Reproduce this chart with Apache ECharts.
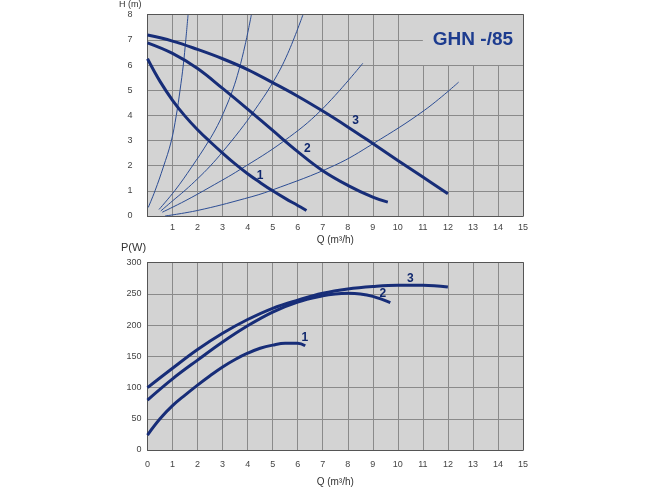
<!DOCTYPE html>
<html>
<head>
<meta charset="utf-8">
<script src="https://cdn.jsdelivr.net/npm/echarts@6/dist/echarts.min.js"></script>
<style>html,body{margin:0;padding:0;background:#fff}#c{width:650px;height:488px}</style>
</head>
<body>
<div id="c"></div>
<script>
// ---- Head curves H(Q) ----
const Q1 = [0,0.5,1,1.5,2,2.5,3,3.5,4,4.5,5,5.5,6,6.35];
const H1 = [6.25,5.35,4.6,3.97,3.43,2.95,2.5,2.07,1.68,1.33,1.0,0.7,0.42,0.22];
const Q2 = [0,1,2,3,4,5,6,7,8,9,9.6];
const H2 = [6.88,6.46,5.86,5.07,4.25,3.4,2.56,1.8,1.22,0.75,0.55];
const Q3 = [0,1,2,3,4,5,6,7,8,9,10,11,12];
const H3 = [7.19,6.95,6.62,6.25,5.82,5.3,4.76,4.17,3.54,2.88,2.21,1.55,0.88];
// ---- System curves ----
const SA_Q = [0.03,0.3,0.63,0.94,1.15,1.3,1.43,1.53,1.62];
const SA_H = [0.34,1.0,1.94,2.94,4,5,6,7,8];
const SB_Q = [0.46,1.1,1.76,2.42,2.8,3.1,3.4,3.65,3.9,4.15];
const SB_H = [0.26,1.02,1.94,2.94,3.6,4.25,5.0,5.8,6.8,8];
const SC_Q = [0.53,1,1.5,2,2.5,3,3.69,4.22,5.02,5.6,6.21];
const SC_H = [0.2,0.6,1.02,1.48,1.98,2.55,3.4,4.12,5.33,6.45,8];
const SD_Q = [0.59,1.5,2.5,3.69,5.45,6.93,8.6];
const SD_H = [0.15,0.6,1.15,1.84,2.98,4.2,6.07];
const SE_Q = [0.7,2,3.88,4.95,7.47,9.02,11.06,12.43];
const SE_H = [0,0.22,0.69,1.02,2.01,2.88,4.2,5.32];
// ---- Power curves P(Q) ----
const PQ1 = [0,0.5,1,1.5,2,2.5,3,3.5,4,4.5,5,5.5,6,6.3];
const P1  = [24,50,71,88,104,119,133,145,155,163,168,171,171,167];
const PQ2 = [0,1,2,3,4,5,6,7,7.5,8,8.5,9,9.7];
const P2  = [80,114,144,173,199,221,237,247,250,251,250,246,236];
const PQ3 = [0,1,2,3,4,5,6,7,8,9,10,11,12];
const P3  = [100,131,161,187,209,227,240,251,258,262,264,264,261];
// ---- Curve labels ----
const curveNames = ['1','2','3'];
const headLabelQ = [4.5,6.38,8.31];
const headLabelH = [1.6,2.68,3.78];
const powLabelQ = [6.29,9.4,10.5];
const powLabelP = [180,250,275];
// ---- Axis ticks ----
const xTicks = {min:0, max:15, interval:1};
const hTicks = {min:0, max:8, interval:1};
const pTicks = {min:0, max:300, interval:50};
const modelName = 'GHN -/85';
const xName = 'Q (m³/h)';
const hName = 'H (m)';
const pName = 'P(W)';

const zip = (a,b) => a.map((v,i)=>[v,b[i]]);
const NAVY = '#172d78';
const THIN = '#2c4d94';
const BG = '#d3d3d3';
const FONT = 'Liberation Sans, Arial, sans-serif';

function mainX(gi, showZero, gap){
  return {type:'value', gridIndex:gi, min:xTicks.min, max:xTicks.max, interval:xTicks.interval,
    name:xName, nameLocation:'middle', nameGap:gap,
    nameTextStyle:{color:'#333', fontSize:10, fontFamily:FONT},
    axisLine:{show:true, lineStyle:{color:'#555', width:1}}, axisTick:{show:false},
    axisLabel:{color:'#444', fontSize:9, fontFamily:FONT, margin:showZero?10:7,
      formatter:v=> (v===0 && !showZero) ? '' : String(v)},
    splitLine:{show:true, lineStyle:{color:'#8a8a8a', width:1}}};
}
function frameAxis(gi, pos, t){
  return {type:'value', gridIndex:gi, position:pos, min:t.min, max:t.max, interval:t.interval, z:5,
    axisLine:{show:true, onZero:false, lineStyle:{color:'#555', width:1}}, axisTick:{show:false},
    axisLabel:{show:false}, splitLine:{show:false}};
}
function mainY(gi, t, margin){
  return {type:'value', gridIndex:gi, min:t.min, max:t.max, interval:t.interval,
    axisLine:{show:true, lineStyle:{color:'#555', width:1}}, axisTick:{show:false},
    axisLabel:{color:'#444', fontSize:9, fontFamily:FONT, margin:margin},
    splitLine:{show:true, lineStyle:{color:'#8a8a8a', width:1}}};
}
function thick(xi, yi, q, v){
  return {type:'line', xAxisIndex:xi, yAxisIndex:yi, data:zip(q,v), smooth:0.4, symbol:'none',
    lineStyle:{color:NAVY, width:3}, z:4};
}
function thin(q, v){
  return {type:'line', xAxisIndex:0, yAxisIndex:0, data:zip(q,v), smooth:0.4, symbol:'none',
    lineStyle:{color:THIN, width:1}, z:3};
}
function labels(xi, yi, q, v){
  return {type:'scatter', xAxisIndex:xi, yAxisIndex:yi, symbolSize:2, itemStyle:{color:'rgba(0,0,0,0)'}, z:6,
    data:q.map((x,i)=>({name:curveNames[i], value:[x,v[i]]})),
    label:{show:true, position:'inside', formatter:p=>p.name, color:'#10286e', opacity:1, fontWeight:'bold', fontSize:12,
      fontFamily:FONT, textBorderWidth:0, textBorderColor:'transparent'}};
}

const chart = echarts.init(document.getElementById('c'), null, {renderer:'canvas'});
chart.setOption({
  backgroundColor:'#fff',
  animation:false,
  grid:[
    {left:147.5, right:127, top:14.7, bottom:272, show:true, backgroundColor:BG, borderWidth:0},
    {left:147.5, right:127, top:262.7, bottom:38, show:true, backgroundColor:BG, borderWidth:0}
  ],
  xAxis:[
    mainX(0,false,19),
    frameAxis(0,'top',xTicks),
    mainX(1,true,27),
    frameAxis(1,'top',xTicks)
  ],
  yAxis:[
    mainY(0,hTicks,15),
    frameAxis(0,'right',hTicks),
    mainY(1,pTicks,6),
    frameAxis(1,'right',pTicks)
  ],
  graphic:[
    {type:'text', left:119, top:0, style:{text:hName, fill:'#333', fontSize:9, fontFamily:FONT}},
    {type:'text', left:121, top:242, style:{text:pName, fill:'#333', fontSize:11, fontFamily:FONT}}
  ],
  series:[
    {type:'line', xAxisIndex:0, yAxisIndex:0, data:[], z:2, silent:true,
      markArea:{silent:true, itemStyle:{color:BG, opacity:1},
        label:{show:true, position:'inside', color:'#1d3c8f', fontWeight:'bold', fontSize:19, fontFamily:FONT, formatter:modelName},
        data:[[{xAxis:11, yAxis:6},{xAxis:15, yAxis:8}]]}},
    thin(SA_Q,SA_H), thin(SB_Q,SB_H), thin(SC_Q,SC_H), thin(SD_Q,SD_H), thin(SE_Q,SE_H),
    thick(0,0,Q1,H1), thick(0,0,Q2,H2), thick(0,0,Q3,H3),
    labels(0,0,headLabelQ,headLabelH),
    thick(2,2,PQ1,P1), thick(2,2,PQ2,P2), thick(2,2,PQ3,P3),
    labels(2,2,powLabelQ,powLabelP)
  ]
});
</script>
</body>
</html>
